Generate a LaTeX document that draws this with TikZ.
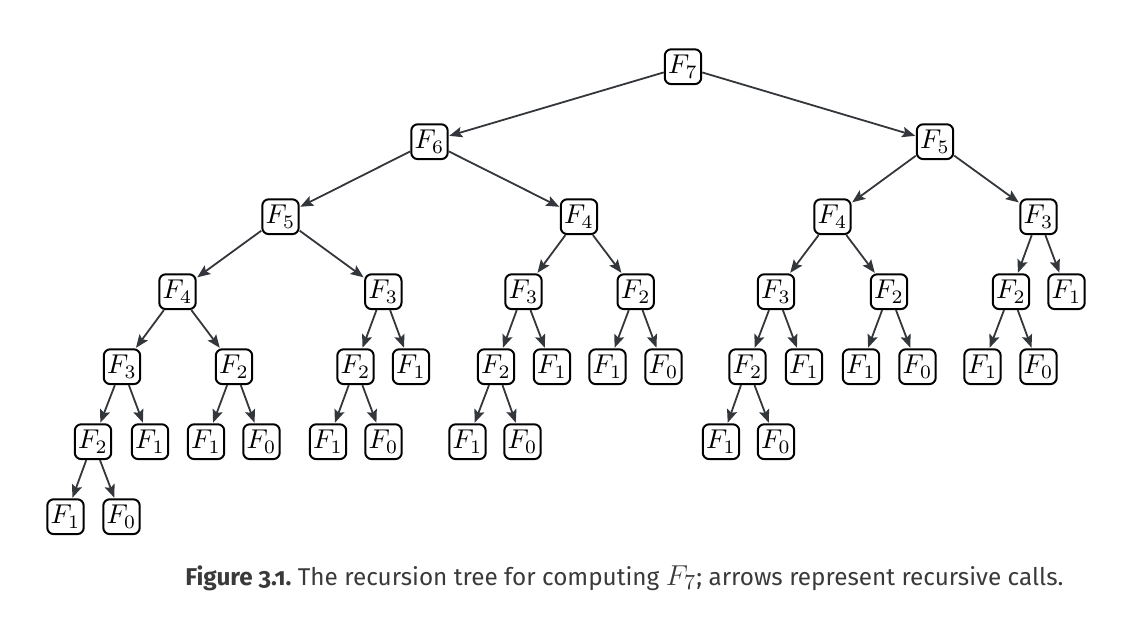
\documentclass[tikz,border=0pt]{standalone}
\usepackage{graphicx}
\usepackage{fontspec}
\setsansfont{Fira Sans}
\newfontfamily\capbold[Numbers=OldStyle]{Fira Sans}
\usetikzlibrary{arrows.meta}
\definecolor{edgecol}{HTML}{33363B}
\definecolor{captext}{HTML}{3A3A3A}
\newcommand\fibn[1]{\scalebox{1.36}{$F_{#1}$}}
\tikzset{
  fbox/.style={draw=black, line width=1pt, rounded corners=3.2pt,
    minimum width=18.2pt, minimum height=17.4pt, inner sep=0pt,
    font=\normalsize},
  call/.style={draw=edgecol, line width=0.9pt,
    -{Stealth[length=6.5pt,width=5.2pt,inset=1.2pt]}, shorten >=0.3pt}
}
\begin{document}
\begin{tikzpicture}[x=0.5pt,y=-0.5pt]
\useasboundingbox (0,0) rectangle (1132,618);
% level 0
\node[fbox] (a) at (683,66.7) {\fibn{7}};
% level 1
\node[fbox] (b) at (429.5,141.7) {\fibn{6}};
\node[fbox] (c) at (935,141.7) {\fibn{5}};
% level 2
\node[fbox] (d) at (280.5,216.7) {\fibn{5}};
\node[fbox] (e) at (579,216.7) {\fibn{4}};
\node[fbox] (f) at (832.5,216.7) {\fibn{4}};
\node[fbox] (g) at (1038.5,216.7) {\fibn{3}};
% level 3
\node[fbox] (h) at (177.5,291.7) {\fibn{4}};
\node[fbox] (i) at (383.3,291.7) {\fibn{3}};
\node[fbox] (j) at (523.5,291.7) {\fibn{3}};
\node[fbox] (k) at (635.7,291.7) {\fibn{2}};
\node[fbox] (l) at (776,291.7) {\fibn{3}};
\node[fbox] (m) at (889,291.7) {\fibn{2}};
\node[fbox] (n) at (1011,291.7) {\fibn{2}};
\node[fbox] (o) at (1066.5,291.7) {\fibn{1}};
% level 4
\node[fbox] (p) at (122,366.7) {\fibn{3}};
\node[fbox] (q) at (234,366.7) {\fibn{2}};
\node[fbox] (r) at (355.5,366.7) {\fibn{2}};
\node[fbox] (s) at (411,366.7) {\fibn{1}};
\node[fbox] (t) at (496,366.7) {\fibn{2}};
\node[fbox] (u) at (552,366.7) {\fibn{1}};
\node[fbox] (v) at (607.5,366.7) {\fibn{1}};
\node[fbox] (w) at (663.5,366.7) {\fibn{0}};
\node[fbox] (x) at (747.5,366.7) {\fibn{2}};
\node[fbox] (y) at (804,366.7) {\fibn{1}};
\node[fbox] (z) at (861,366.7) {\fibn{1}};
\node[fbox] (aa) at (917.5,366.7) {\fibn{0}};
\node[fbox] (ab) at (982.5,366.7) {\fibn{1}};
\node[fbox] (ac) at (1038.5,366.7) {\fibn{0}};
% level 5
\node[fbox] (ad) at (93,441.7) {\fibn{2}};
\node[fbox] (ae) at (150,441.7) {\fibn{1}};
\node[fbox] (af) at (206,441.7) {\fibn{1}};
\node[fbox] (ag) at (261.5,441.7) {\fibn{0}};
\node[fbox] (ah) at (328,441.7) {\fibn{1}};
\node[fbox] (ai) at (383.5,441.7) {\fibn{0}};
\node[fbox] (aj) at (467.5,441.7) {\fibn{1}};
\node[fbox] (ak) at (522.5,441.7) {\fibn{0}};
\node[fbox] (al) at (721,441.7) {\fibn{1}};
\node[fbox] (am) at (776,441.7) {\fibn{0}};
% level 6
\node[fbox] (an) at (65.5,516.7) {\fibn{1}};
\node[fbox] (ao) at (121.5,516.7) {\fibn{0}};
% edges
\foreach \p/\cc in {a/b,a/c,b/d,b/e,c/f,c/g,d/h,d/i,e/j,e/k,f/l,f/m,g/n,g/o,
  h/p,h/q,i/r,i/s,j/t,j/u,k/v,k/w,l/x,l/y,m/z,m/aa,n/ab,n/ac,
  p/ad,p/ae,q/af,q/ag,r/ah,r/ai,t/aj,t/ak,x/al,x/am,ad/an,ad/ao}
  \draw[call] (\p) -- (\cc);
% caption
\node[anchor=base west, inner sep=0pt, text=captext,
  font=\fontsize{12.15}{15}\sffamily] (cap) at (185,585)
  {{\capbold\bfseries Figure 3.1.}\ The recursion tree for computing \scalebox{1.2}{$F_7$}; arrows represent recursive calls.};
\end{tikzpicture}
\end{document}
